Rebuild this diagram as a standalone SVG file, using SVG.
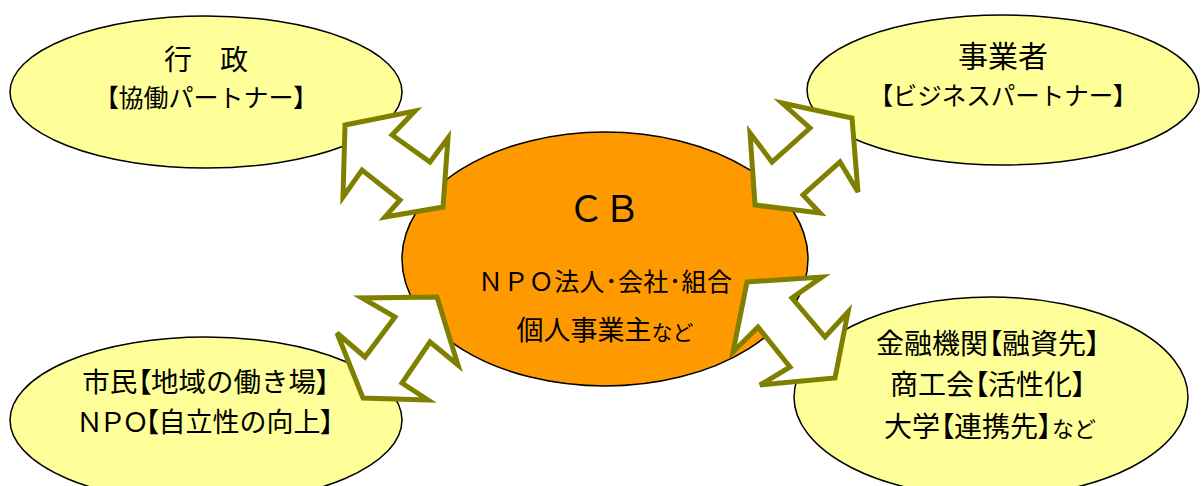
<svg xmlns="http://www.w3.org/2000/svg" width="1203" height="486" viewBox="0 0 1203 486">
<style>
.y{fill:#FFFF99;stroke:#000;stroke-width:1.5}
.o{fill:#FF9900;stroke:#000;stroke-width:1.5}
.t{font-family:"Noto Sans CJK JP","Noto Sans CJK SC",sans-serif;fill:#000;text-anchor:middle}
.p{font-feature-settings:"palt"}
.a{fill:#fff;stroke:#808000;stroke-width:5;stroke-linejoin:miter}
</style>
<rect width="1203" height="486" fill="#fff"/>
<g id="gyosei">
<ellipse class="y" cx="206" cy="92" rx="196" ry="76"/>
<text class="t" x="206" y="70" font-size="28">行　政</text>
<text class="t" x="206" y="107" font-size="25"><tspan class="p">【</tspan>協働パートナー<tspan class="p">】</tspan></text>
</g>
<g id="jigyosha">
<ellipse class="y" cx="1003" cy="90" rx="196" ry="75"/>
<text class="t" x="1003" y="67" font-size="30">事業者</text>
<text class="t" x="1003" y="105" font-size="24.5"><tspan class="p">【</tspan>ビジネスパートナー<tspan class="p">】</tspan></text>
</g>
<g id="shimin">
<ellipse class="y" cx="206" cy="420" rx="196" ry="83"/>
<text class="t" x="206" y="392" font-size="27.5">市民<tspan class="p">【</tspan>地域の働き場<tspan class="p">】</tspan></text>
<text class="t" x="205" y="432" font-size="27"><tspan letter-spacing="-4">ＮＰＯ</tspan><tspan class="p">【</tspan>自立性の向上<tspan class="p">】</tspan></text>
</g>
<g id="kinyu">
<ellipse class="y" cx="991" cy="397" rx="197" ry="100"/>
<text class="t" x="988" y="354" font-size="28">金融機関<tspan class="p">【</tspan>融資先<tspan class="p">】</tspan></text>
<text class="t" x="988" y="395" font-size="28">商工会<tspan class="p">【</tspan>活性化<tspan class="p">】</tspan></text>
<text class="t" x="990" y="437" font-size="28">大学<tspan class="p">【</tspan>連携先<tspan class="p">】</tspan><tspan font-size="22">など</tspan></text>
</g>
<g id="cb">
<ellipse class="o" cx="605" cy="259" rx="203" ry="127"/>
<text class="t" x="604" y="222" font-size="36">ＣＢ</text>
<text class="t" x="605" y="291" font-size="25" textLength="254">ＮＰＯ法人･会社･組合</text>
<text class="t" x="605" y="340" font-size="27">個人事業主<tspan font-size="21">など</tspan></text>
</g>
<g id="connectors">
<polygon class="a" points="345,125 415,111 392,135 430,162 448,138 443,207 385,217 400,200 362,170 343,197"/>
<polygon class="a" points="852,118 858,192 840,162 803,195 820,213 755,205 750,133 772,162 810,128 782,103"/>
<polygon class="a" points="437,297 458,365 430,342 402,383 428,400 363,398 337,333 365,357 395,317 362,298"/>
<polygon class="a" points="747,282 822,277 792,298 825,337 848,312 835,378 760,385 790,367 758,327 733,352"/>
</g>
</svg>
